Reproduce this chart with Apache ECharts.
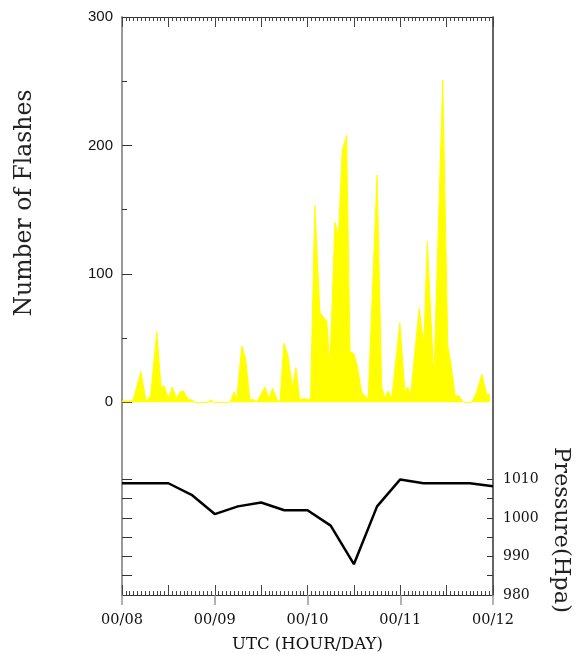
<!DOCTYPE html>
<html>
<head>
<meta charset="utf-8">
<script src="https://cdn.jsdelivr.net/npm/echarts@6/dist/echarts.min.js"></script>
<style>
  html, body { margin: 0; padding: 0; background: #fff; }
  #chart { width: 577px; height: 654px; }
</style>
</head>
<body>
<div id="chart"></div>
<script>
// Lightning flashes (hours since 00/08 00UTC, count)
var flashHours = [0, 2.8, 4.9, 6.2, 7.4, 9.0, 10.1, 10.9, 12, 13, 14.1, 15, 15.9, 17.2, 18, 19, 22.3, 23, 23.7,
	28, 29, 29.7, 31, 32, 33.1, 34.2, 34.8, 37, 38, 39, 40.2, 40.9, 41.9, 42.9, 44.1, 45, 46, 47.2, 48,
	48.8, 49.9, 51.2, 53, 53.8, 55.1, 56, 57, 58.1, 59, 60, 60.9, 62, 63.1, 63.7, 66, 67.2, 68, 68.9, 69.8,
	71.9, 73.2, 73.9, 74.7, 76.9, 78.1, 79, 80.7, 83, 84.3, 85.1, 86.2, 87.2, 88.3, 90.5, 91.8, 93.1, 94.4, 95.2];
var flashCounts = [1, 1, 24, 1, 5, 55, 12, 13, 3, 12, 3, 8, 9, 2, 2, 0, 0, 2, 0,
	0, 8, 3, 44, 34, 2, 2, 0, 12, 3, 11, 1, 1, 46, 37, 11, 27, 2, 3, 2,
	3, 153, 70, 63, 28, 140, 130, 196, 208, 39, 38, 28, 8, 4, 3, 177, 12, 3, 9, 3,
	62, 8, 12, 6, 73, 44, 125, 18, 251, 44, 30, 5, 5, 0, 0, 8, 22, 6, 6];

// Surface pressure, every 6 hours
var pressureHours = [0, 6, 12, 18, 24, 30, 36, 42, 48, 54, 60, 66, 72, 78, 84, 90, 96];
var pressureValues = [1009, 1009, 1009, 1006, 1001, 1003, 1004, 1002, 1002, 998, 988, 1003, 1010, 1009, 1009, 1009, 1008.2];

// Tick labels
var dayTicks = [0, 24, 48, 72, 96];
var dayLabels = ['00/08', '00/09', '00/10', '00/11', '00/12'];
var flashLabelTicks = [0, 100, 200, 300];
var flashMinorTicks = [50, 150, 250];
var pressureLabelTicks = [980, 990, 1000, 1010];
var pressureTicks = [980, 985, 990, 995, 1000, 1005, 1010];

function zip(a, b) {
	var out = [];
	for (var i = 0; i < a.length; i++) out.push([a[i], b[i]]);
	return out;
}

var chart = echarts.init(document.getElementById('chart'));

var tickColor = '#444';
var serif = 'DejaVu Serif';

var option = {
	animation: false,
	backgroundColor: '#fff',
	grid: { left: 122, right: 84, top: 17, bottom: 59, outerBoundsMode: 'none', containLabel: false },
	xAxis: [
		{
			// bottom axis with labels
			type: 'value', position: 'bottom', min: 0, max: 96, interval: 12,
			axisLine: { onZero: false, lineStyle: { color: '#333', width: 1 } },
			axisTick: { inside: true, length: 10, lineStyle: { color: tickColor } },
			minorTick: { show: true, splitNumber: 12, length: 4, lineStyle: { color: tickColor } },
			splitLine: { show: false },
			axisLabel: {
				customValues: dayTicks,
				margin: 18,
				color: '#111',
				fontFamily: serif,
				fontSize: 14.5,
				formatter: function (v) { return dayLabels[dayTicks.indexOf(v)]; }
			},
			name: 'UTC (HOUR/DAY)',
			nameLocation: 'middle',
			nameGap: 41,
			nameTextStyle: { color: '#111', fontFamily: serif, fontSize: 16.5 }
		},
		{
			// day ticks pointing out below the axis
			type: 'value', position: 'bottom', min: 0, max: 96, interval: 12,
			axisLine: { show: false, onZero: false },
			axisTick: { customValues: dayTicks, inside: false, length: 10, lineStyle: { color: '#999', width: 1.5 } },
			axisLabel: { show: false },
			splitLine: { show: false }
		},
		{
			// top axis, ticks only
			type: 'value', position: 'top', min: 0, max: 96, interval: 12,
			axisLine: { onZero: false, lineStyle: { color: '#333', width: 1 } },
			axisTick: { inside: true, length: 10, lineStyle: { color: tickColor } },
			minorTick: { show: true, splitNumber: 12, length: 4, lineStyle: { color: tickColor } },
			axisLabel: { show: false },
			splitLine: { show: false }
		}
	],
	yAxis: [
		{
			// flashes, left
			type: 'value', position: 'left', min: -150, max: 300, interval: 50,
			axisLine: { show: true, onZero: false, lineStyle: { color: '#999', width: 2 } },
			axisTick: { customValues: flashLabelTicks, inside: true, length: 10, lineStyle: { color: '#333' } },
			axisLabel: {
				customValues: flashLabelTicks, margin: 9, color: '#111',
				fontFamily: 'Liberation Sans', fontSize: 15
			},
			splitLine: { show: false }
		},
		{
			// flashes minor ticks
			type: 'value', position: 'left', min: -150, max: 300, interval: 50,
			axisLine: { show: false, onZero: false },
			axisTick: { customValues: flashMinorTicks, inside: true, length: 5, lineStyle: { color: '#333' } },
			axisLabel: { show: false },
			splitLine: { show: false }
		},
		{
			// pressure, right
			type: 'value', position: 'right', min: 980, max: 1130, interval: 10,
			axisLine: { show: true, onZero: false, lineStyle: { color: '#333', width: 1.5 } },
			axisTick: { customValues: pressureTicks, inside: true, length: 6, lineStyle: { color: '#333' } },
			axisLabel: {
				customValues: pressureLabelTicks, margin: 10, color: '#111',
				fontFamily: serif, fontSize: 14,
				formatter: function (v) { return String(v); }
			},
			splitLine: { show: false }
		},
		{
			// pressure ticks mirrored on the left
			type: 'value', position: 'left', min: 980, max: 1130, interval: 10,
			axisLine: { show: false, onZero: false },
			axisTick: { customValues: pressureTicks.slice(1), inside: true, length: 10, lineStyle: { color: '#333' } },
			axisLabel: { show: false },
			splitLine: { show: false }
		}
	],
	graphic: [
		{
			type: 'text', x: 25, y: 203, rotation: Math.PI / 2,
			style: {
				text: 'Number of Flashes', fill: '#222', font: '23.5px "DejaVu Serif"',
				textAlign: 'center', textVerticalAlign: 'middle'
			}
		},
		{
			type: 'text', x: 561, y: 530, rotation: -Math.PI / 2,
			style: {
				text: 'Pressure(Hpa)', fill: '#222', font: '22.5px "DejaVu Serif"',
				textAlign: 'center', textVerticalAlign: 'middle'
			}
		}
	],
	series: [
		{
			name: 'Flashes',
			type: 'line',
			xAxisIndex: 0,
			yAxisIndex: 0,
			data: zip(flashHours, flashCounts),
			symbol: 'none',
			lineStyle: { color: '#ffff00', width: 1 },
			areaStyle: { color: '#ffff00', opacity: 1 }
		},
		{
			name: 'Pressure',
			type: 'line',
			xAxisIndex: 0,
			yAxisIndex: 2,
			data: zip(pressureHours, pressureValues),
			symbol: 'none',
			lineStyle: { color: '#000', width: 2.5 }
		}
	]
};

chart.setOption(option);
</script>
</body>
</html>
